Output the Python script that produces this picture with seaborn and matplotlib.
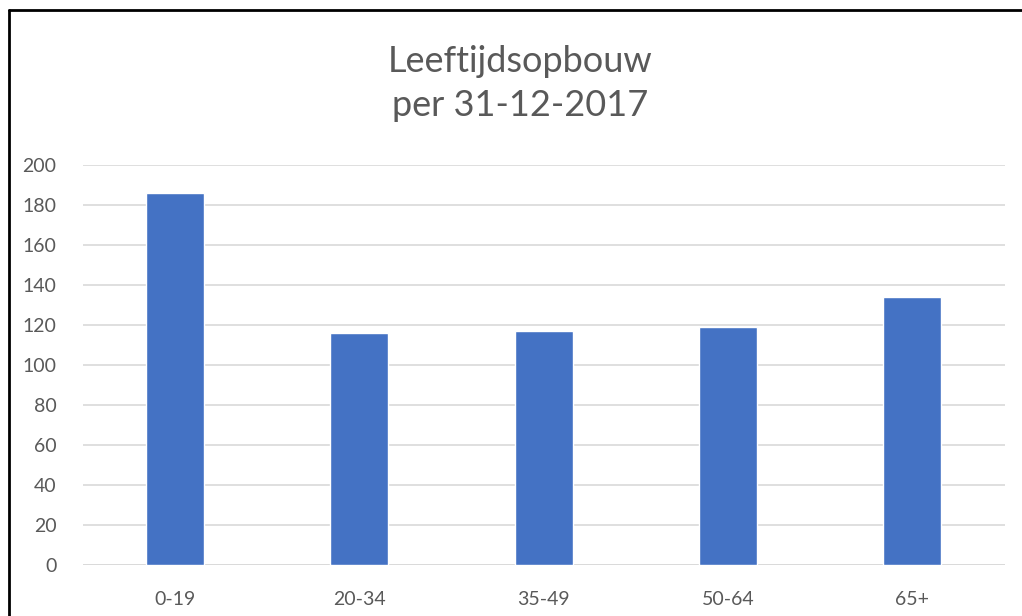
import pandas as pd
import numpy as np
import matplotlib.pyplot as plt
import seaborn as sns
from matplotlib.lines import Line2D

# leeftijdsgroepen en aantallen
groepen = ["0-19", "20-34", "35-49", "50-64", "65+"]
aantallen = [186, 116, 117, 119, 134]
y_ticks = [0, 20, 40, 60, 80, 100, 120, 140, 160, 180, 200]

df = pd.DataFrame({"groep": groepen, "aantal": aantallen})

sns.set_theme(style="white")
plt.rcParams["font.family"] = ["Lato", "DejaVu Sans"]

fig = plt.figure(figsize=(10.22, 6.16), dpi=100)
ax = fig.add_axes([0.081, 0.083, 0.902, 0.649])

sns.barplot(data=df, x="groep", y="aantal", color="#4472C4", width=0.315,
            saturation=1, ax=ax, zorder=3)

ax.set_ylim(0, 200)
ax.set_yticks(y_ticks)
ax.yaxis.grid(True, color="#d9d9d9", linewidth=1.2, zorder=0)
ax.set_axisbelow(True)
for s in ax.spines.values():
    s.set_visible(False)
ax.axhline(0, color="#d9d9d9", linewidth=1.2, zorder=1)
ax.tick_params(axis="both", length=0, labelsize=14, colors="#595959")
ax.tick_params(axis="y", pad=19)
ax.tick_params(axis="x", pad=19)
for lbl in ax.get_yticklabels():
    lbl.set_horizontalalignment("right")
ax.set_xlabel("")
ax.set_ylabel("")

fig.text(0.509, 0.865, "Leeftijdsopbouw\nper 31-12-2017", ha="center", va="center",
         fontsize=26, color="#595959", linespacing=1.4)

# kader van de grafiek
fig.add_artist(Line2D([0.009, 1.0], [0.983, 0.983], color="black", linewidth=2,
                      transform=fig.transFigure))
fig.add_artist(Line2D([0.009, 0.009], [0.0, 0.983], color="black", linewidth=2,
                      transform=fig.transFigure))

fig.savefig("out.png", dpi=100)
